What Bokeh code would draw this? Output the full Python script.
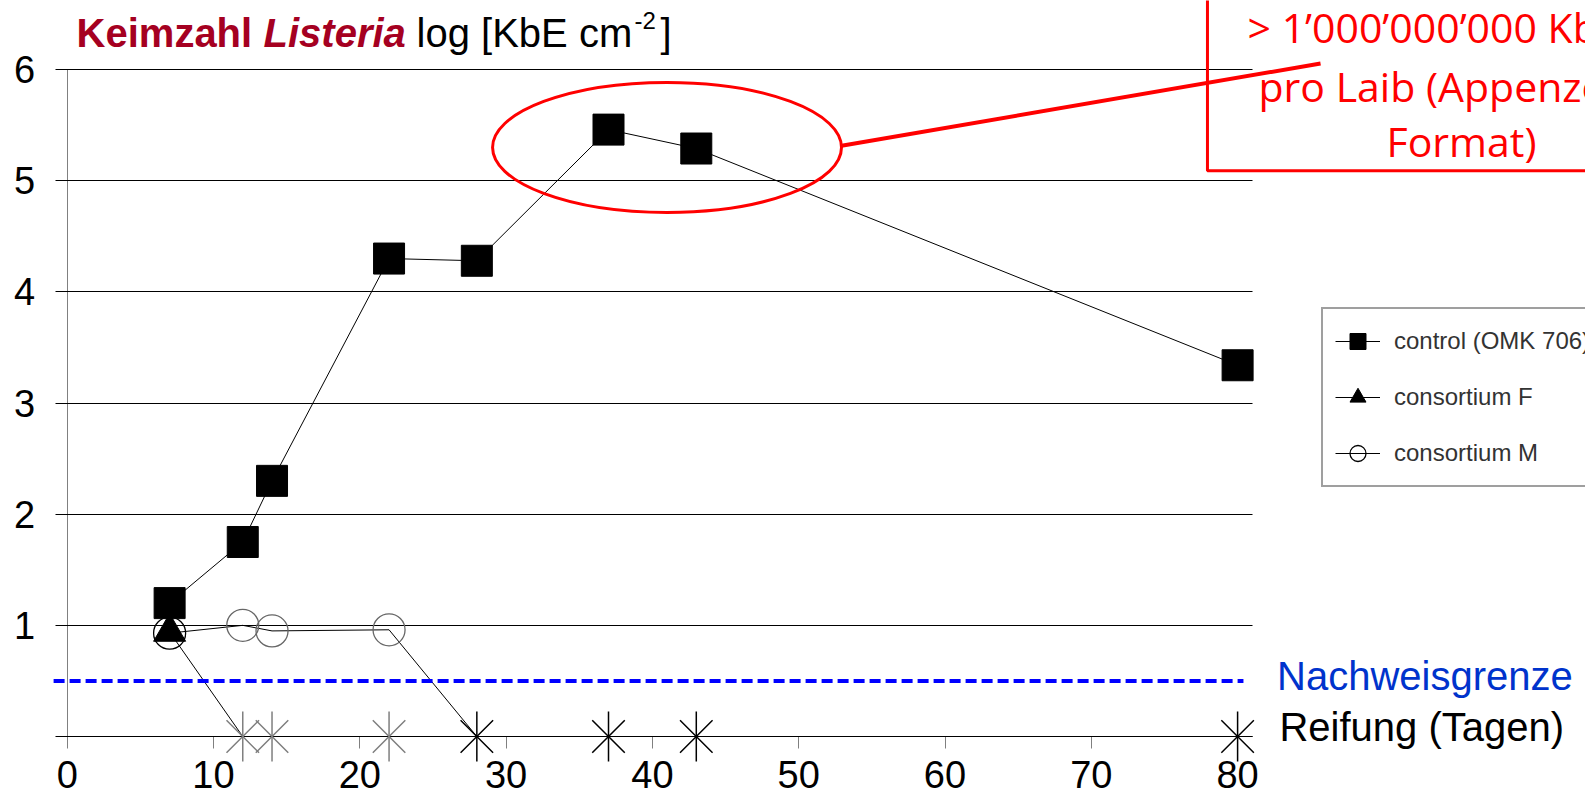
from bokeh.plotting import figure
from bokeh.models import (Label, Arrow, BoxAnnotation, Legend, LegendItem,
                          FixedTicker, LinearAxis)
from bokeh.embed import file_html
from bokeh.resources import INLINE

# ---------------- data ----------------
days_control = [7, 12, 14, 22, 28, 37, 43, 80]
log_control = [1.2, 1.75, 2.3, 4.3, 4.28, 5.46, 5.29, 3.34]

days_F = [7, 12, 14, 22]
log_F = [0.94, 0, 0, 0]          # 0 = not detected (asterisk)

days_M = [7, 12, 14, 22, 28, 37, 43, 80]
log_M = [0.93, 1.0, 0.95, 0.96, 0, 0, 0, 0]

detection_limit = 0.5
x_ticks = [0, 10, 20, 30, 40, 50, 60, 70, 80]
y_ticks = [0, 1, 2, 3, 4, 5, 6]
series_names = ["control (OMK 706)", "consortium F", "consortium M"]

# ---------------- derived subsets ----------------
def split(days, vals):
    det = [(d, v) for d, v in zip(days, vals) if v > 0]
    nd = [(d, v) for d, v in zip(days, vals) if v <= 0]
    return ([d for d, _ in det], [v for _, v in det],
            [d for d, _ in nd], [v for _, v in nd])

F_dx, F_dy, F_nx, F_ny = split(days_F, log_F)
M_dx, M_dy, M_nx, M_ny = split(days_M, log_M)
M_colors = ["black" if i == 0 else "#666666" for i in range(len(M_dx))]

FONT = "Liberation Sans"
W, H = 1585, 796
X0_PX, PX_PER_X = 66.7, 14.63      # screen position of x=0, px per day
Y0_PX, PX_PER_Y = 736.0, 111.15    # screen position of y=0, px per log unit
X_END = 81                         # right end of the plotting area (days)
LBL_DY = 0.135                     # baseline correction for labels

p = figure(width=W, height=H,
           x_range=(-X0_PX / PX_PER_X, (W - X0_PX) / PX_PER_X),
           y_range=(-(H - Y0_PX) / PX_PER_Y, Y0_PX / PX_PER_Y),
           x_axis_location=None, y_axis_location=None,
           output_backend="svg", toolbar_location=None, min_border=0)
p.outline_line_color = None
p.background_fill_color = "white"
p.border_fill_color = "white"
p.grid.visible = False

# x axis (placed at y = 0)
xax = LinearAxis(fixed_location=0, bounds=(0, X_END), ticker=FixedTicker(ticks=x_ticks))
xax.axis_line_color = "black"
xax.major_tick_line_color = "#808080"
xax.major_tick_out = 12
xax.major_tick_in = 0
xax.minor_tick_line_color = None
xax.major_label_text_font = FONT
xax.major_label_text_font_size = "38px"
xax.major_label_text_color = "black"
xax.major_label_standoff = 12
xax.level = "underlay"
p.add_layout(xax, "below")

# y axis (placed at x = 0); its inward ticks form the horizontal grid lines
yax = LinearAxis(fixed_location=0, bounds=(0, 6), ticker=FixedTicker(ticks=y_ticks))
yax.axis_line_color = "#808080"
yax.major_tick_line_color = "black"
yax.major_tick_out = 12
yax.major_tick_in = int(round(X_END * PX_PER_X))
yax.minor_tick_line_color = None
yax.major_label_text_font = FONT
yax.major_label_text_font_size = "38px"
yax.major_label_text_color = "black"
yax.major_label_standoff = 20
yax.major_label_overrides = {0: ""}
yax.level = "underlay"
p.add_layout(yax, "left")

# detection limit (dashed blue)
p.add_layout(Arrow(end=None, x_start=-0.93, y_start=detection_limit, x_end=80.4,
                   y_end=detection_limit, line_color="#0000FF", line_width=4,
                   line_dash="11 5"))

# consortium M
m_line = p.line(days_M, log_M, line_color="black", line_width=1)
m_pts = p.scatter(M_dx, M_dy, marker="circle", size=32, fill_color=None,
                  line_color=M_colors, line_width=1.3)
# consortium F
f_line = p.line(days_F, log_F, line_color="black", line_width=1)
f_pts = p.scatter(F_dx, F_dy, marker="triangle", size=32, fill_color="black",
                  line_color="black")
# not detected markers (asterisks)
for xs, ys, col in ((F_nx, F_ny, "#7f7f7f"), (M_nx, M_ny, "black")):
    p.scatter(xs, ys, marker="x", size=46, line_color=col, line_width=1.5)
    p.scatter(xs, ys, marker="dash", size=50, angle=1.5708, line_color=col, line_width=1.5)

# control
c_line = p.line(days_control, log_control, line_color="black", line_width=1)
c_pts = p.scatter(days_control, log_control, marker="square", size=31,
                  fill_color="black", line_color="black")

# red highlight ellipse + connector + box
p.ellipse(x=[41.0], y=[5.30], width=23.85, height=1.17, fill_color=None,
          line_color="#FF0000", line_width=3)
p.add_layout(Arrow(end=None, x_start=52.93, y_start=5.315, x_end=85.67, y_end=6.055,
                   line_color="#FF0000", line_width=4))
p.add_layout(BoxAnnotation(left=77.94, bottom=5.09, right=120, top=8,
                           fill_alpha=0, line_color="#FF0000", line_width=3,
                           line_alpha=1))

red_lines = ["> 1\u2019000\u2019000\u2019000 KbE", "pro Laib (Appenzeller", "Format)"]
red_x = [80.68, 81.43, 90.18]
red_y = [6.244, 5.719, 5.225]
for t, xx, yy in zip(red_lines, red_x, red_y):
    p.add_layout(Label(x=xx, y=yy + LBL_DY, text=t, text_font="Open Sans",
                       text_font_size="41px", text_color="#FF0000",
                       text_baseline="alphabetic", text_align="left"))

# title
title_parts = [("Keimzahl", 0.64, 6.19, "40px", "bold", "#A50021"),
               ("Listeria", 13.42, 6.19, "40px", "bold italic", "#A50021"),
               ("log [KbE cm", 23.88, 6.19, "40px", "normal", "black"),
               ("-2", 38.78, 6.31, "24px", "normal", "black"),
               ("]", 40.55, 6.19, "40px", "normal", "black")]
for t, xx, yy, fs, st, col in title_parts:
    p.add_layout(Label(x=xx, y=yy + LBL_DY, text=t, text_font=FONT, text_font_size=fs,
                       text_font_style=st, text_color=col,
                       text_baseline="alphabetic", text_align="left"))

# side labels
p.add_layout(Label(x=82.7, y=0.407 + LBL_DY, text="Nachweisgrenze", text_font=FONT,
                   text_font_size="40px", text_color="#0033CC",
                   text_baseline="alphabetic"))
p.add_layout(Label(x=82.86, y=-0.051 + LBL_DY, text="Reifung (Tagen)", text_font=FONT,
                   text_font_size="40px", text_color="black",
                   text_baseline="alphabetic"))

# legend (screen position relative to the bottom-left corner)
legend = Legend(items=[LegendItem(label=series_names[0], renderers=[c_line, c_pts]),
                       LegendItem(label=series_names[1], renderers=[f_line, f_pts]),
                       LegendItem(label=series_names[2], renderers=[m_line, m_pts])],
                location=(1321, 309), orientation="vertical",
                label_text_font=FONT, label_text_font_size="24px",
                label_text_color="#333333",
                border_line_color="#404040", border_line_width=2,
                background_fill_color="white", background_fill_alpha=1,
                padding=12, spacing=16, glyph_width=45, glyph_height=40,
                label_height=40, label_standoff=14, margin=0)
p.add_layout(legend, "center")

open("out.html", "w").write(file_html(p, INLINE))
